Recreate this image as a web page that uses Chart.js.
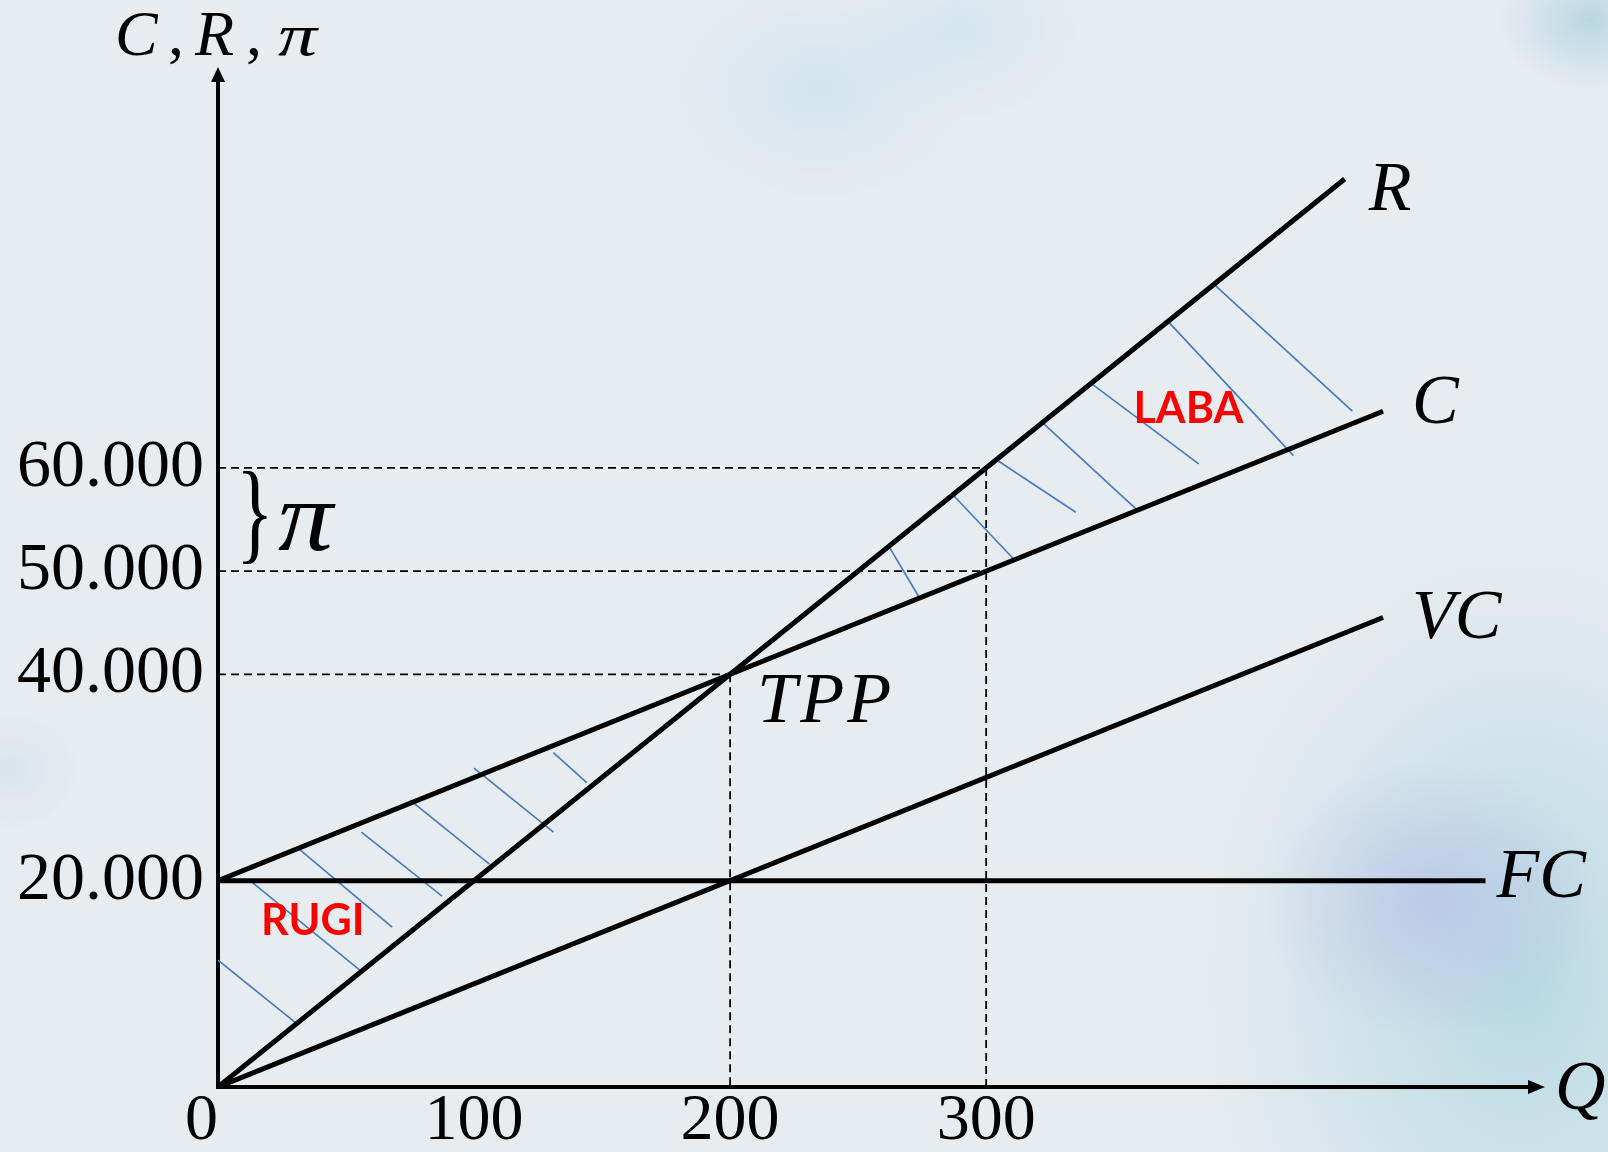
<!DOCTYPE html>
<html lang="id">
<head>
<meta charset="utf-8">
<title>Titik Pulang Pokok</title>
<script src="https://cdn.jsdelivr.net/npm/chart.js@4.4.0/dist/chart.umd.min.js"></script>
<style>
  html, body { margin: 0; padding: 0; }
  body {
    width: 1608px;
    height: 1152px;
    overflow: hidden;
    background:
      radial-gradient(ellipse 170px 140px at 1430px 900px, rgba(175, 180, 230, 0.5), rgba(175, 180, 230, 0) 100%),
      radial-gradient(ellipse 320px 430px at 1520px 980px, rgba(155, 205, 220, 0.6), rgba(155, 205, 220, 0) 100%),
      radial-gradient(ellipse 150px 110px at 820px 90px, rgba(185, 220, 232, 0.45), rgba(185, 220, 232, 0) 100%),
      radial-gradient(ellipse 120px 90px at 960px 30px, rgba(185, 220, 232, 0.4), rgba(185, 220, 232, 0) 100%),
      radial-gradient(ellipse 90px 70px at 1590px 20px, rgba(140, 195, 215, 0.5), rgba(140, 195, 215, 0) 100%),
      radial-gradient(ellipse 70px 60px at 10px 770px, rgba(190, 214, 224, 0.35), rgba(190, 214, 224, 0) 100%),
      #e6ecef;
  }
  canvas { display: block; }
</style>
</head>
<body>
<canvas id="bep" width="1608" height="1152"></canvas>
<script>
// === DATA ===
const tickQ = [0, 100, 200, 300];
const tickNilai = [20000, 40000, 50000, 60000];

const qR = [0, 440];    const nilaiR = [0, 88000];       // penerimaan total
const qC = [0, 455];    const nilaiC = [20000, 65500];   // biaya total
const qVC = [0, 455];   const nilaiVC = [0, 45500];      // biaya variabel
const qFC = [0, 495];   const nilaiFC = [20000, 20000];  // biaya tetap

const tppQ = 200;
const tppNilai = 40000;

// garis putus-putus (Q dan nilai)
const panduQ = [[0, 200], [200, 200], [0, 300], [0, 300], [300, 300]];
const panduNilai = [[40000, 40000], [40000, 0], [50000, 50000], [60000, 60000], [60000, 0]];

// arsiran laba (antara R dan C) dan rugi (antara C dan R)
const arsirLabaQ = [[389, 443], [371, 420], [341, 383], [322, 359], [304, 335], [287, 311], [262, 274]];
const arsirLabaNilai = [[77800, 65500], [74200, 61200], [68200, 60400], [64400, 55900], [60800, 55700], [57400, 51100], [52400, 47400]];
const arsirRugiQ = [[131, 144], [100, 131], [75, 106], [56, 87.5], [31, 68], [12.5, 56], [0, 31]];
const arsirRugiNilai = [[32400, 29500], [30900, 24700], [27800, 21600], [24700, 18500], [23200, 15500], [20000, 11200], [12300, 6100]];

// posisi teks LABA / RUGI (Q, nilai)
const posLaba = [379, 65700];
const posRugi = [37, 16100];

const SERIF = "'Liberation Serif', 'Times New Roman', serif";

function titik(qs, vs) {
    return qs.map((q, i) => ({ x: q, y: vs[i] }));
}

function formatRibuan(v) {
    return String(v).replace(/\B(?=(\d{3})+(?!\d))/g, '.');
}

const datasets = [];

// === kurva utama ===
[[qR, nilaiR], [qC, nilaiC], [qVC, nilaiVC], [qFC, nilaiFC]].forEach(([qs, vs]) => {
    datasets.push({
        data: titik(qs, vs),
        borderColor: '#000',
        borderWidth: 5,
        pointRadius: 0,
        order: 0
    });
});

// === garis bantu putus-putus ===
panduQ.forEach((qs, i) => {
    datasets.push({
        data: titik(qs, panduNilai[i]),
        borderColor: '#000',
        borderWidth: 1.8,
        borderDash: [8, 5],
        pointRadius: 0,
        order: 1
    });
});

// === arsiran ===
[[arsirLabaQ, arsirLabaNilai], [arsirRugiQ, arsirRugiNilai]].forEach(([qList, vList]) => {
    qList.forEach((qs, i) => {
        datasets.push({
            data: titik(qs, vList[i]),
            borderColor: '#4a7cc0',
            borderWidth: 1.7,
            pointRadius: 0,
            order: 2
        });
    });
});

// pi dengan huruf yang agak melebar
function tulisPi(ctx, x, y, size, lebar) {
    ctx.save();
    ctx.translate(x, y);
    ctx.scale(lebar, 1);
    ctx.font = 'italic ' + size + 'px ' + SERIF;
    ctx.fillText('\u03c0', 0, 0);
    ctx.restore();
}

// panah sumbu + label teks
const anotasi = {
    id: 'anotasi',
    afterDraw(chart) {
        const { ctx, chartArea: a } = chart;
        const sx = chart.scales.x, sy = chart.scales.y;
        const px = q => sx.getPixelForValue(q);
        const py = v => sy.getPixelForValue(v);

        ctx.save();
        ctx.fillStyle = '#000';

        // panah
        ctx.beginPath();
        ctx.moveTo(a.left, a.top - 13);
        ctx.lineTo(a.left - 7, a.top + 2);
        ctx.lineTo(a.left + 7, a.top + 2);
        ctx.closePath();
        ctx.fill();
        ctx.beginPath();
        ctx.moveTo(a.right + 16, a.bottom);
        ctx.lineTo(a.right - 1, a.bottom - 7);
        ctx.lineTo(a.right - 1, a.bottom + 7);
        ctx.closePath();
        ctx.fill();

        ctx.textBaseline = 'alphabetic';
        ctx.textAlign = 'left';

        // judul sumbu Y: C, R, pi
        ctx.font = 'italic 64px ' + SERIF;
        ctx.fillText('C', 115, 55);
        ctx.fillText('R', 195, 55);
        ctx.font = '64px ' + SERIF;
        ctx.fillText(',', 168, 55);
        ctx.fillText(',', 246, 55);
        tulisPi(ctx, 278, 55, 60, 1.3);

        // label kurva
        ctx.font = 'italic 70px ' + SERIF;
        ctx.fillText('R', px(qR[1]) + 24, py(nilaiR[1]) + 31);
        ctx.fillText('C', px(qC[1]) + 29, py(nilaiC[1]) + 12);
        ctx.fillText('VC', px(qVC[1]) + 29, py(nilaiVC[1]) + 20);
        ctx.fillText('FC', px(qFC[1]) + 11, py(nilaiFC[1]) + 16);
        ctx.fillText('Q', a.right + 26, a.bottom + 22);
        ctx.font = 'italic 72px ' + SERIF;
        ctx.letterSpacing = '3px';
        ctx.fillText('TPP', px(tppQ) + 27, py(tppNilai) + 48);
        ctx.letterSpacing = '0px';

        // kurung kurawal pi antara 50.000 dan 60.000
        const yMid = (py(50000) + py(60000)) / 2;
        ctx.save();
        ctx.translate(236, yMid);
        ctx.scale(0.7, 1);
        ctx.font = '112px ' + SERIF;
        ctx.textBaseline = 'middle';
        ctx.fillText('}', 0, 0);
        ctx.restore();
        ctx.textBaseline = 'middle';
        tulisPi(ctx, 278, yMid + 4, 100, 1.1);

        // teks merah
        ctx.fillStyle = '#ff0000';
        ctx.font = "bold 43px Lato, 'Open Sans', sans-serif";
        ctx.textAlign = 'center';
        ctx.fillText('LABA', px(posLaba[0]), py(posLaba[1]));
        ctx.fillText('RUGI', px(posRugi[0]), py(posRugi[1]));

        ctx.restore();
    }
};

new Chart(document.getElementById('bep').getContext('2d'), {
    type: 'line',
    data: { datasets: datasets },
    options: {
        responsive: false,
        animation: false,
        layout: { padding: { top: 80, right: 79, bottom: 0, left: 0 } },
        plugins: {
            legend: { display: false },
            tooltip: { enabled: false },
            title: { display: false }
        },
        scales: {
            x: {
                type: 'linear',
                min: 0,
                max: 512,
                grid: { display: false, drawTicks: false },
                border: { display: true, color: '#000', width: 4 },
                afterBuildTicks: s => { s.ticks = tickQ.map(v => ({ value: v })); },
                afterFit: s => { s.height = 65; },
                ticks: {
                    color: '#000',
                    padding: 2,
                    maxRotation: 0,
                    autoSkip: false,
                    font: { family: SERIF, size: 66, lineHeight: 1 },
                    callback: v => v === 0 ? '0\u2002' : String(v)
                }
            },
            y: {
                type: 'linear',
                min: 0,
                max: 97600,
                grid: { display: false, drawTicks: false },
                border: { display: true, color: '#000', width: 4 },
                afterBuildTicks: s => { s.ticks = tickNilai.map(v => ({ value: v })); },
                afterFit: s => { s.width = 218; },
                ticks: {
                    color: '#000',
                    padding: 14,
                    autoSkip: false,
                    font: { family: SERIF, size: 68 },
                    callback: v => formatRibuan(v)
                }
            }
        }
    },
    plugins: [anotasi]
});
</script>
</body>
</html>
